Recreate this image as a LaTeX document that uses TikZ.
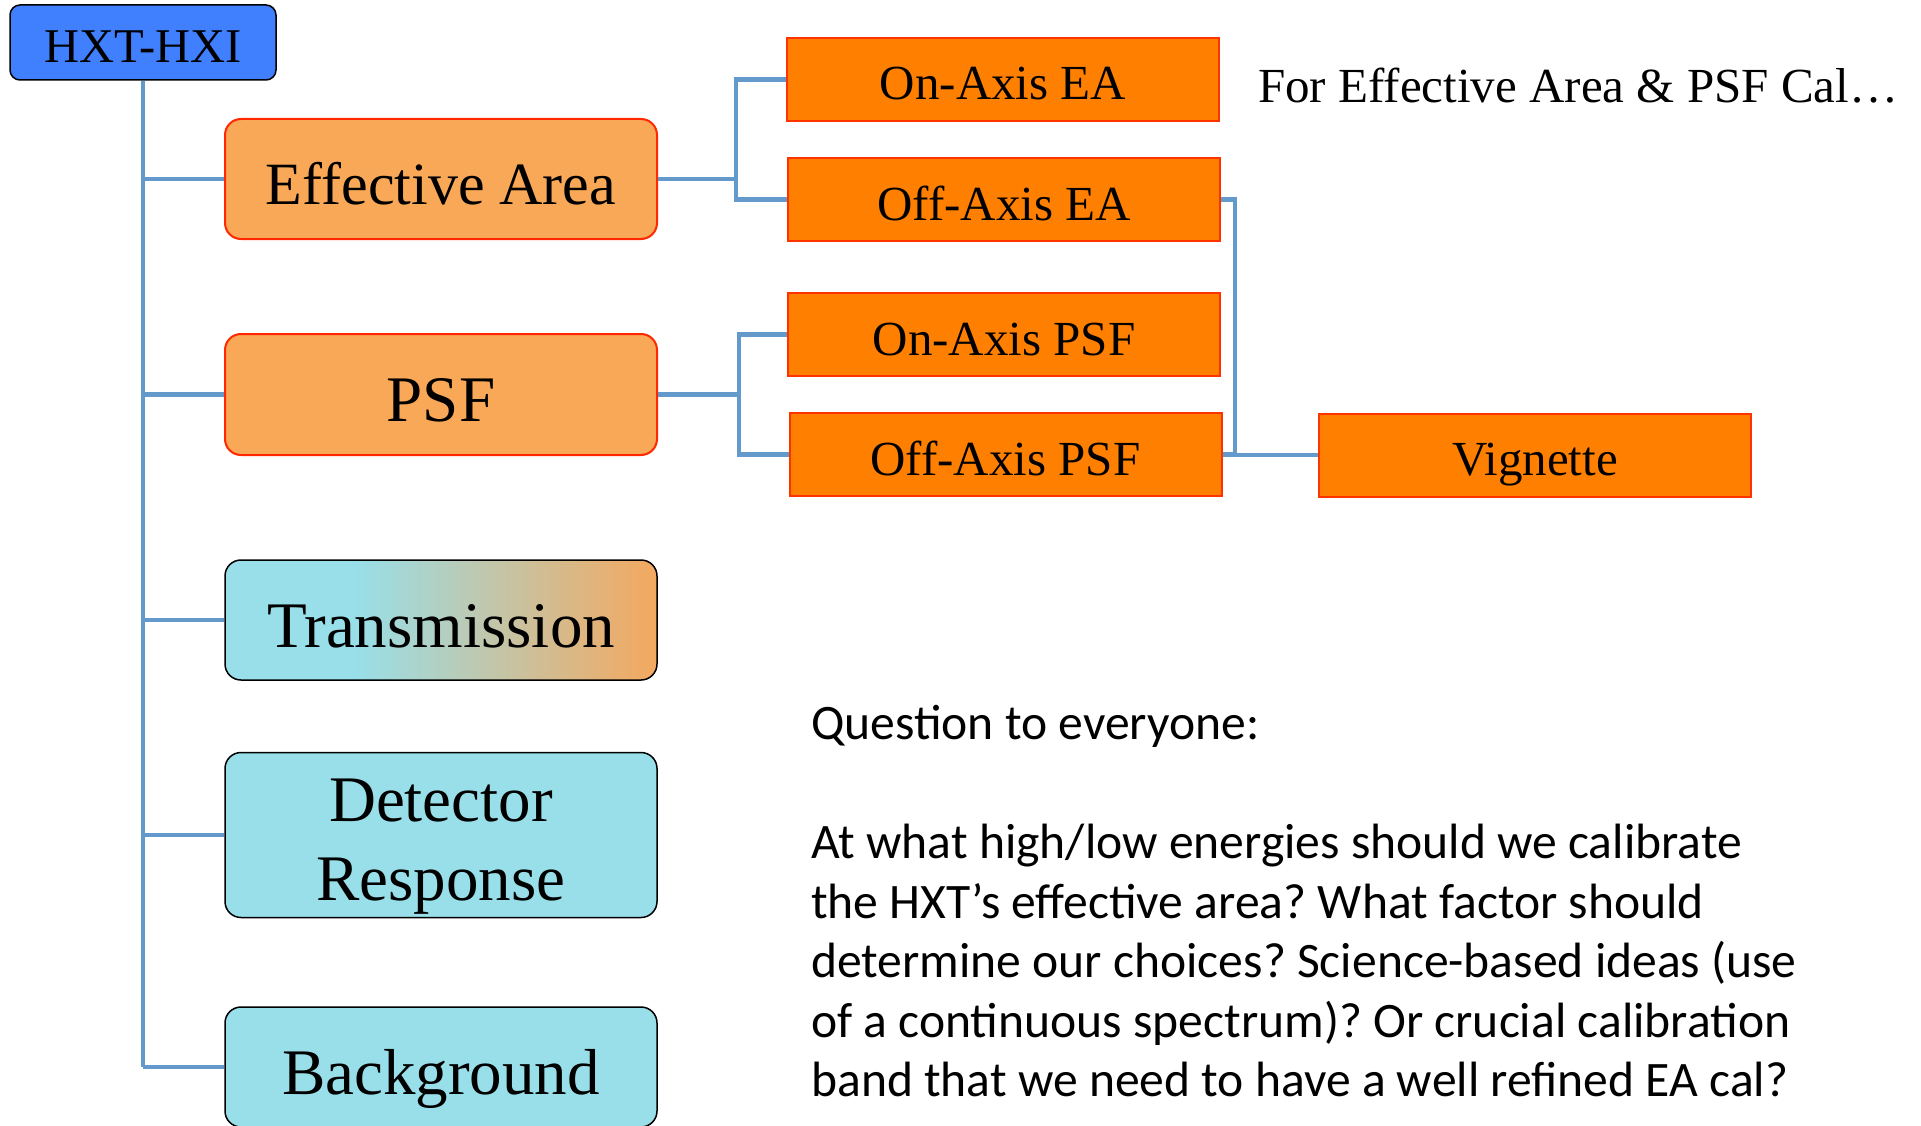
\documentclass[tikz,border=0pt]{standalone}
\usepackage{fontspec}
\setmainfont{Liberation Serif}
\newfontfamily\qfont{Carlito}
\usetikzlibrary{calc}
\frenchspacing

\definecolor{linkblue}{RGB}{100,153,204}
\definecolor{rootblue}{RGB}{64,128,255}
\definecolor{peach}{RGB}{249,168,87}
\definecolor{peachedge}{RGB}{255,40,0}
\definecolor{deeporange}{RGB}{255,127,0}
\definecolor{deepedge}{RGB}{255,51,0}
\definecolor{aqua}{RGB}{152,223,233}
\definecolor{warmend}{RGB}{244,168,94}

% aqua on the left third, fading into orange at the right edge
\pgfdeclarehorizontalshading{transfade}{100bp}{color(0bp)=(aqua); color(40bp)=(aqua);
  color(75bp)=(warmend); color(100bp)=(warmend)}

\begin{document}
\begin{tikzpicture}[x=1pt,y=-1pt,
  link/.style={draw=linkblue, line width=4.5pt},
  % text height 2x the drop of the baseline below the box centre
  rootbox/.style={draw=black, line width=1.5pt, fill=rootblue, rounded corners=10pt,
    minimum width=266pt, minimum height=75pt, inner sep=0pt,
    text height=41pt, text depth=0pt,
    font=\fontsize{48.5}{56}\selectfont},
  topicbox/.style={draw=peachedge, line width=2pt, fill=peach, rounded corners=16pt,
    minimum width=432pt, minimum height=120pt, inner sep=0pt,
    text height=54pt, text depth=0pt,
    font=\fontsize{65}{78}\selectfont},
  aquabox/.style={draw=black, line width=1.5pt, fill=aqua, rounded corners=16pt,
    minimum width=432pt, minimum height=120pt, inner sep=0pt, align=center,
    text height=54pt, text depth=0pt,
    font=\fontsize{65}{78.3}\selectfont},
  itembox/.style={draw=deepedge, line width=2pt, fill=deeporange,
    minimum width=432pt, minimum height=83pt, inner sep=0pt,
    text height=41pt, text depth=0pt,
    font=\fontsize{49}{56}\selectfont},
  qline/.style={anchor=base west, inner sep=0pt, font=\qfont\fontsize{49.6}{60}\selectfont},
]
\useasboundingbox (0,0) rectangle (1921,1126);
\clip (0,0) rectangle (1921,1126);

% top of the tree
\node[rootbox] (hxt) at (143,42.5) {HXT-HXI};

% first-level topics
\node[topicbox, font=\fontsize{60}{72}\selectfont, text height=51pt] (ea) at (441,179) {Effective Area};
\node[topicbox, minimum height=121pt] (psf) at (441,394.5) {PSF};
\node[aquabox, shading=transfade] (trans) at (441,620) {Transmission};
\node[aquabox, minimum height=165pt, text height=130pt] (det) at (441,835) {Detector\\Response};
\node[aquabox] (bg) at (441,1067) {Background};

% second-level items
\node[itembox] (onea) at (1003,79.5) {On-Axis EA};
\node[itembox] (offea) at (1004,199.5) {Off-Axis EA};
\node[itembox] (onpsf) at (1004,334.5) {On-Axis PSF};
\node[itembox] (offpsf) at (1005.5,454.5) {Off-Axis PSF};
\node[itembox] (vig) at (1535,455) {Vignette};

% junction columns
\coordinate (eaJ) at (736,179);
\coordinate (psfJ) at (739,394.5);
\coordinate (vigJ) at (1235,454.5);

% trunk and branches
\draw[link] (hxt.south) -- (hxt.south |- bg.west);
\foreach \n in {ea,psf,trans,det,bg}
  \draw[link] (hxt.south |- \n.west) -- (\n.west);

\draw[link] (ea.east) -- (eaJ);
\draw[link] (onea.west) -- (onea.west -| eaJ) |- (offea.west);
\draw[link] (psf.east) -- (psfJ);
\draw[link] (onpsf.west) -- (onpsf.west -| psfJ) |- (offpsf.west);
\draw[link] (offea.east) -- (offea.east -| vigJ) |- (vig.west);
\draw[link] (offpsf.east) -- (vigJ);

% notes
\node[anchor=base west, inner sep=0pt, font=\fontsize{49}{56}\selectfont] (note) at (1258,103)
  {For Effective Area \& PSF Cal…};
\node[qline] (q0) at (811,739) {Question to everyone:};
\node[qline] (q1) at (811,858) {At what high/low energies should we calibrate};
\node[qline] (q2) at (811,918) {the HXT’s effective area? What factor should};
\node[qline] (q3) at (811,977) {determine our choices? Science-based ideas (use};
\node[qline] (q4) at (811,1037) {of a continuous spectrum)? Or crucial calibration};
\node[qline] (q5) at (811,1096) {band that we need to have a well refined EA cal?};
\end{tikzpicture}
\end{document}
